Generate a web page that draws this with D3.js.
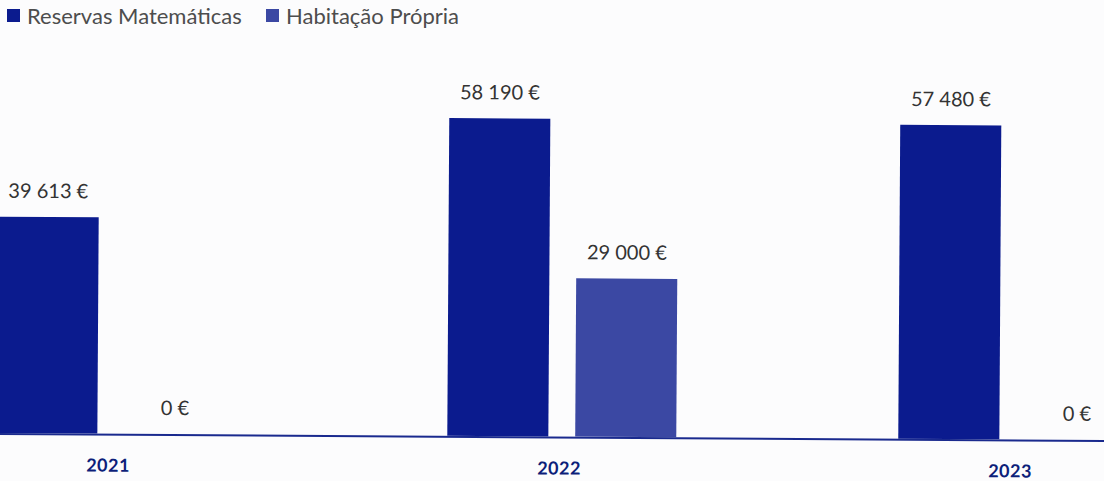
<!DOCTYPE html>
<html>
<head>
<meta charset="utf-8">
<script src="https://cdn.jsdelivr.net/npm/d3@7"></script>
<style>
  body { margin: 0; background: #fcfcfd; }
  svg { display: block; }
</style>
</head>
<body>
<svg id="mainSvg" width="1104" height="481"></svg>
<script>
var years = ["2021", "2022", "2023"];
var seriesNames = ["Reservas Matemáticas", "Habitação Própria"];
var reservas = [39613, 58190, 57480];
var habitacao = [0, 29000, 0];

var colors = ["#0b1b8e", "#3b48a3"];

var rows = years.map(function(y, i) {
  return { year: y, values: [reservas[i], habitacao[i]] };
});

var baseY = 433;
var font = "Lato, 'Open Sans', sans-serif";

var svg = d3.select("#mainSvg");
// the scan is slightly tilted
var g = svg.append("g").attr("transform", "rotate(0.36)");

var x0 = d3.scaleBand()
  .domain(years)
  .range([-114.5, 1238.5]);

var x1 = d3.scaleBand()
  .domain(seriesNames)
  .range([113.5, 342.5])
  .paddingInner(0.21);

var y = d3.scaleLinear()
  .domain([0, 60000])
  .range([baseY, baseY - 327.6]);

var fmt = function(v) { return d3.format(",")(v).replace(/,/g, " ") + " €"; };

// legend
var legend = svg.append("g").attr("class", "legend");
var legX = [7, 266];
seriesNames.forEach(function(s, i) {
  legend.append("rect")
    .attr("x", legX[i]).attr("y", 9)
    .attr("width", 13).attr("height", 13)
    .attr("fill", colors[i]);
  legend.append("text")
    .attr("x", legX[i] + 20).attr("y", 24)
    .style("font-family", font)
    .style("font-size", "22px")
    .style("fill", "#4d4d4d")
    .text(s);
});

var groups = g.selectAll(".yearGroup")
  .data(rows)
  .enter().append("g")
  .attr("class", "yearGroup")
  .attr("transform", function(d) { return "translate(" + x0(d.year) + ",0)"; });

groups.selectAll("rect")
  .data(function(d) { return d.values.map(function(v, i) { return { s: seriesNames[i], v: v, i: i }; }); })
  .enter().append("rect")
  .attr("x", function(d) { return x1(d.s); })
  .attr("width", x1.bandwidth())
  .attr("y", function(d) { return y(d.v); })
  .attr("height", function(d) { return baseY - y(d.v); })
  .attr("fill", function(d) { return colors[d.i]; });

groups.selectAll(".valLabel")
  .data(function(d) { return d.values.map(function(v, i) { return { s: seriesNames[i], v: v }; }); })
  .enter().append("text")
  .attr("class", "valLabel")
  .attr("x", function(d) { return x1(d.s) + x1.bandwidth() / 2; })
  .attr("y", function(d) { return y(d.v) - 19; })
  .attr("text-anchor", "middle")
  .style("font-family", font)
  .style("font-size", "20px")
  .style("fill", "#333")
  .text(function(d) { return fmt(d.v); });

// baseline
g.append("line")
  .attr("x1", 0).attr("x2", 1110)
  .attr("y1", baseY + 1).attr("y2", baseY + 1)
  .attr("stroke", "#1a2a8e")
  .attr("stroke-width", 2);

// year labels
var xAxis = d3.axisBottom(x0).tickSize(0).tickPadding(0);
var axisG = g.append("g")
  .attr("transform", "translate(0," + (baseY + 38) + ")")
  .call(xAxis);
axisG.select(".domain").remove();
axisG.selectAll("text")
  .attr("dy", 0)
  .style("font-family", font)
  .style("font-size", "18px")
  .style("font-weight", "bold")
  .style("letter-spacing", "0.5px")
  .style("fill", "#0d1f7a");
</script>
</body>
</html>
